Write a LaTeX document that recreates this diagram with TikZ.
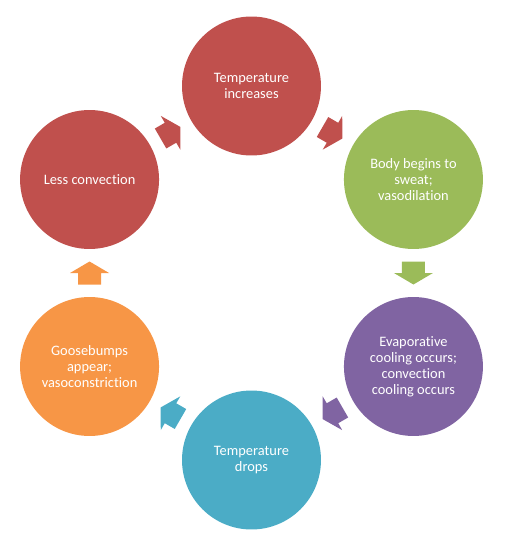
\documentclass[tikz,border=0pt]{standalone}
\usepackage{fontspec}
\setmainfont{Carlito}[Ligatures=NoCommon]
\usetikzlibrary{calc}
\definecolor{cycRed}{HTML}{C0504D}
\definecolor{cycGreen}{HTML}{9BBB59}
\definecolor{cycPurple}{HTML}{8064A2}
\definecolor{cycTeal}{HTML}{4BACC6}
\definecolor{cycOrange}{HTML}{F79646}
\begin{document}
\begin{tikzpicture}[x=0.02cm,y=0.02cm,
  stage/.style={circle,minimum size=2.78cm,inner sep=0pt,text=white,align=center,font=\fontsize{8.2}{9.1}\selectfont}]
\useasboundingbox(-251.5,-265)rectangle(257.5,273);
\node[stage,fill=cycRed](tempUp)at(90:187){Temperature\\increases};
\node[stage,fill=cycGreen](sweat)at(30:187){Body begins to\\sweat;\\vasodilation};
\node[stage,fill=cycPurple](cooling)at(-30:187){Evaporative\\cooling occurs;\\convection\\cooling occurs};
\node[stage,fill=cycTeal](tempDown)at(-90:187){Temperature\\drops};
\node[stage,fill=cycOrange](goose)at(-150:187){Goosebumps\\appear;\\vasoconstriction};
\node[stage,fill=cycRed](lessConv)at(150:187){Less convection};
\foreach \a/\b/\ang/\col in {tempUp/sweat/-30/cycRed,sweat/cooling/-90/cycGreen,cooling/tempDown/-150/cycPurple,tempDown/goose/150/cycTeal,goose/lessConv/90/cycOrange,lessConv/tempUp/30/cycRed}
  \fill[\col,shift={($(\a)!0.5!(\b)$)},rotate=\ang](-11.5,-11.5)--(0,-11.5)--(0,-19.5)--(11.5,0)--(0,19.5)--(0,11.5)--(-11.5,11.5)--cycle;
\end{tikzpicture}
\end{document}
